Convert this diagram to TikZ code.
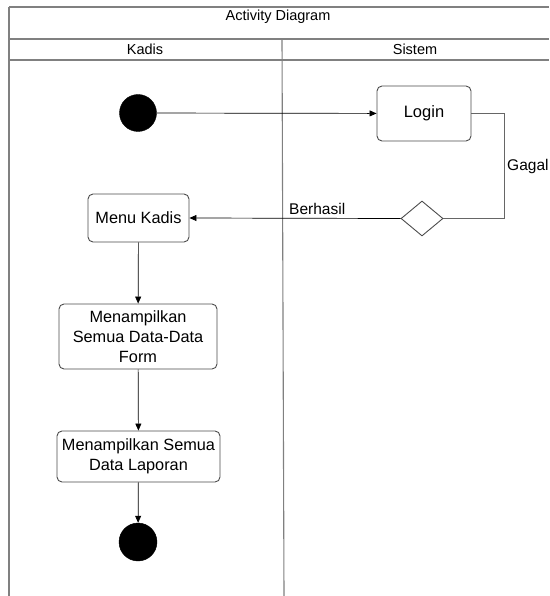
\documentclass[tikz,border=0pt]{standalone}
\usepackage{fontspec}
\setmainfont{Liberation Sans}
\usetikzlibrary{arrows.meta,shapes.geometric}
\begin{document}
\begin{tikzpicture}[x=1pt,y=-1pt,
  frame/.style={draw=black!50, line width=1.1pt},
  act/.style={draw=black!70, line width=0.9pt, rounded corners=5pt, fill=white, align=center, font=\fontsize{16.3}{20}\selectfont, inner sep=0pt},
  dot/.style={circle, fill=black, draw=black, minimum size=37pt, inner sep=0pt},
  flow/.style={draw=black, line width=0.7pt, -{Triangle[length=7pt,width=6pt]}},
  plain/.style={draw=black!60, line width=0.9pt},
  lbl/.style={font=\fontsize{14.5}{17}\selectfont, inner sep=0pt},
  elbl/.style={font=\fontsize{15.5}{18}\selectfont, inner sep=0pt}
]
\useasboundingbox (0,0) rectangle (549,596);
% frame
\draw[frame] (9,7) -- (549,7);
\draw[frame] (9,39) -- (549,39);
\draw[frame] (9,60) -- (549,60);
\draw[frame] (9,7) -- (9,596);
\draw[frame] (282,39) -- (284,596);
\node[lbl] (title) at (278,17) {Activity Diagram};
\node[lbl] (kadis) at (145,49) {Kadis};
\node[lbl] (sistem) at (415,49) {Sistem};
% nodes
\node[dot] (start) at (138,113) {};
\node[act, minimum width=94pt, minimum height=55pt, font=\fontsize{16.5}{20}\selectfont] (login) at (424,113.5) {Login};
\node[diamond, draw=black!70, line width=0.9pt, minimum width=42pt, minimum height=35pt, inner sep=0pt, aspect=1.2] (dec) at (422,218.5) {};
\node[act, minimum width=101pt, minimum height=48pt] (menu) at (138.5,218) {Menu Kadis};
\node[act, minimum width=158pt, minimum height=65pt] (form) at (138,336.5) {Menampilkan\\Semua Data-Data\\Form};
\node[act, minimum width=163pt, minimum height=51pt] (lap) at (138.5,456.5) {Menampilkan Semua\\Data Laporan};
\node[dot, minimum size=38pt] (end) at (138,542) {};
% connectors
\draw[flow] (start) -- (login);
\coordinate (g1) at (504,113.5);
\coordinate (g2) at (504,218.5);
\draw[plain] (login.east) -- (g1) -- (g2) -- (dec.east);
\node[elbl, anchor=west] (gagal) at (507,166) {Gagal};
\draw[flow] (dec.west) -- (menu.east);
\node[elbl, anchor=west] (berhasil) at (289,209) {Berhasil};
\draw[flow] (menu) -- (form);
\draw[flow] (form) -- (lap);
\draw[flow] (lap) -- (end);
\end{tikzpicture}
\end{document}
